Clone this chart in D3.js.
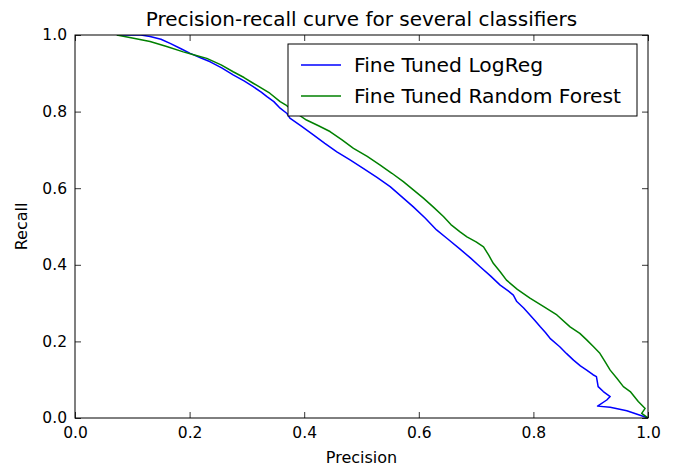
<!DOCTYPE html>
<html><head><meta charset="utf-8">
<script src="https://cdn.jsdelivr.net/npm/d3@7"></script>
<style>body{margin:0;background:#fff;} svg{display:block;font-family:"DejaVu Sans",sans-serif;}</style>
</head><body>
<svg id="c" width="681" height="469"></svg>
<script>
const title = "Precision-recall curve for several classifiers";
const xLabel = "Precision";
const yLabel = "Recall";
const seriesNames = ["Fine Tuned LogReg", "Fine Tuned Random Forest"];
const seriesColors = ["#0000ff", "#008000"];
const xTicks = [0.0, 0.2, 0.4, 0.6, 0.8, 1.0];
const yTicks = [0.0, 0.2, 0.4, 0.6, 0.8, 1.0];

// [precision, recall]
const logReg = [[0.073,1.0],[0.115,1.0],[0.131,0.996],[0.150,0.989],[0.166,0.978],[0.185,0.964],[0.201,0.952],[0.220,0.940],[0.236,0.930],[0.256,0.914],[0.276,0.896],[0.295,0.880],[0.311,0.865],[0.325,0.851],[0.335,0.839],[0.347,0.826],[0.358,0.809],[0.370,0.795],[0.375,0.783],[0.395,0.762],[0.416,0.739],[0.436,0.717],[0.457,0.695],[0.480,0.674],[0.503,0.652],[0.527,0.628],[0.550,0.604],[0.570,0.578],[0.590,0.552],[0.611,0.522],[0.631,0.491],[0.650,0.468],[0.672,0.441],[0.690,0.418],[0.707,0.395],[0.725,0.371],[0.742,0.347],[0.756,0.332],[0.765,0.321],[0.771,0.304],[0.783,0.287],[0.794,0.269],[0.803,0.254],[0.812,0.238],[0.821,0.223],[0.829,0.208],[0.846,0.186],[0.858,0.168],[0.870,0.151],[0.882,0.136],[0.893,0.125],[0.904,0.113],[0.910,0.108],[0.913,0.082],[0.922,0.069],[0.934,0.056],[0.928,0.047],[0.912,0.031],[0.934,0.028],[0.963,0.019],[0.985,0.008],[1.0,0.0]];
const randomForest = [[0.073,1.0],[0.100,0.992],[0.131,0.983],[0.160,0.970],[0.189,0.956],[0.210,0.947],[0.230,0.939],[0.255,0.922],[0.276,0.904],[0.295,0.889],[0.311,0.874],[0.340,0.848],[0.358,0.826],[0.369,0.816],[0.385,0.797],[0.404,0.778],[0.425,0.763],[0.445,0.748],[0.466,0.726],[0.486,0.704],[0.510,0.683],[0.532,0.661],[0.553,0.639],[0.573,0.617],[0.591,0.595],[0.608,0.574],[0.626,0.550],[0.643,0.526],[0.656,0.505],[0.672,0.486],[0.684,0.473],[0.700,0.460],[0.713,0.447],[0.722,0.425],[0.730,0.404],[0.742,0.382],[0.753,0.360],[0.772,0.336],[0.794,0.313],[0.818,0.291],[0.841,0.269],[0.864,0.238],[0.881,0.221],[0.893,0.204],[0.905,0.186],[0.916,0.169],[0.925,0.147],[0.934,0.125],[0.946,0.103],[0.957,0.082],[0.969,0.069],[0.976,0.056],[0.983,0.043],[0.989,0.034],[0.995,0.025],[0.989,0.012],[1.0,0.0]];
const series = [logReg, randomForest];

const svg = d3.select("#c");
const L = 75, R = 648, T = 35, B = 418;
const x = d3.scaleLinear().domain([0, 1]).range([L, R]);
const y = d3.scaleLinear().domain([0, 1]).range([B, T]);
const fmt = d3.format(".1f");

svg.append("clipPath").attr("id", "clip").append("rect")
  .attr("x", L).attr("y", T).attr("width", R - L).attr("height", B - T);

const line = d3.line().x(d => x(d[0])).y(d => y(d[1]));
const g = svg.append("g").attr("clip-path", "url(#clip)");
series.forEach((s, i) => {
  g.append("path").datum(s).attr("d", line).attr("fill", "none")
    .attr("stroke", seriesColors[i]).attr("stroke-width", 1.5).attr("stroke-linejoin", "round");
});

// axes (ticks inside, all four sides)
const tickSize = 6;
const axB = svg.append("g").attr("transform", `translate(0,${B})`)
  .call(d3.axisBottom(x).tickValues(xTicks).tickFormat(fmt).tickSizeInner(-tickSize).tickSizeOuter(0).tickPadding(9));
const axT = svg.append("g").attr("transform", `translate(0,${T})`)
  .call(d3.axisTop(x).tickValues(xTicks).tickFormat("").tickSizeInner(-tickSize).tickSizeOuter(0));
const axL = svg.append("g").attr("transform", `translate(${L},0)`)
  .call(d3.axisLeft(y).tickValues(yTicks).tickFormat(fmt).tickSizeInner(-tickSize).tickSizeOuter(0).tickPadding(8));
const axR = svg.append("g").attr("transform", `translate(${R},0)`)
  .call(d3.axisRight(y).tickValues(yTicks).tickFormat("").tickSizeInner(-tickSize).tickSizeOuter(0));
[axB, axT, axL, axR].forEach(a => {
  a.select(".domain").remove();
  a.selectAll("line").attr("stroke", "#000").attr("stroke-width", 0.8);
  a.selectAll("text").attr("font-size", 15.5).attr("fill", "#000").attr("font-family", "DejaVu Sans");
});
svg.append("rect").attr("x", L).attr("y", T).attr("width", R - L).attr("height", B - T)
  .attr("fill", "none").attr("stroke", "#000").attr("stroke-width", 1);

// title and labels
svg.append("text").attr("x", (L + R) / 2).attr("y", 26).attr("text-anchor", "middle")
  .attr("font-size", 20).text(title);
svg.append("text").attr("x", (L + R) / 2).attr("y", 463).attr("text-anchor", "middle")
  .attr("font-size", 16).text(xLabel);
svg.append("text").attr("transform", `translate(27,${(T + B) / 2}) rotate(-90)`).attr("text-anchor", "middle")
  .attr("font-size", 16).text(yLabel);

// legend
const lg = svg.append("g");
lg.append("rect").attr("x", 288).attr("y", 44).attr("width", 349).attr("height", 72)
  .attr("fill", "#fff").attr("stroke", "#000").attr("stroke-width", 1);
seriesNames.forEach((n, i) => {
  const yy = 65 + i * 31;
  lg.append("line").attr("x1", 301).attr("x2", 341).attr("y1", yy).attr("y2", yy)
    .attr("stroke", seriesColors[i]).attr("stroke-width", 1.5);
  lg.append("text").attr("x", 354).attr("y", yy + 7).attr("font-size", 20.3).text(n);
});
</script>
</body></html>
